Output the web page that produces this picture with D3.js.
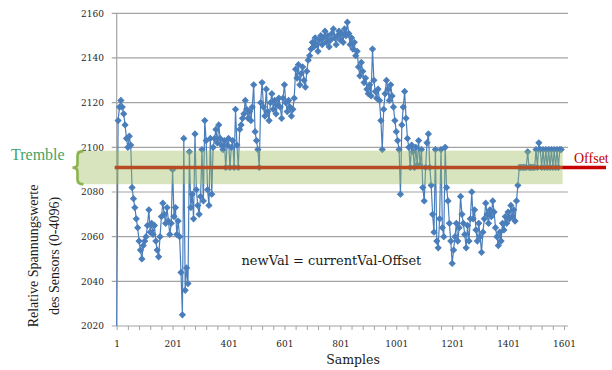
<!DOCTYPE html>
<html>
<head>
<meta charset="utf-8">
<script src="https://cdn.jsdelivr.net/npm/d3@7/dist/d3.min.js"></script>
<style>
  html, body { margin: 0; padding: 0; background: #ffffff; }
  svg { display: block; }
</style>
</head>
<body>
<svg id="chart" width="612" height="370"></svg>
<script>
// Sensor readings, one value every 5 samples starting at sample 1
const sampleStart = 1;
const sampleStep = 5;
const sensorValues = [
  2020,2112,2118,2121,2118,2115,2110,2104,2100,2105,
  2101,2082,2077,2073,2068,2064,2058,2054,2050,2056,
  2058,2060,2065,2072,2062,2066,2061,2065,2058,2054,
  2051,2060,2069,2075,2070,2066,2073,2067,2061,2066,
  2090,2069,2073,2061,2067,2060,2044,2025,2104,2036,
  2046,2039,2098,2073,2079,2068,2106,2081,2074,2070,
  2078,2099,2076,2112,2103,2081,2074,2104,2079,2100,
  2104,2108,2102,2110,2104,2101,2099,2103,2091,2101,
  2104,2091,2100,2103,2091,2117,2101,2091,2108,2110,
  2113,2115,2121,2117,2113,2116,2112,2118,2128,2107,
  2103,2099,2091,2120,2129,2118,2114,2126,2116,2112,
  2120,2124,2117,2121,2115,2119,2122,2118,2113,2122,
  2128,2120,2116,2121,2118,2114,2117,2122,2135,2131,
  2137,2128,2133,2136,2130,2127,2134,2139,2141,2144,
  2147,2145,2149,2146,2143,2148,2150,2146,2149,2152,
  2147,2150,2145,2148,2151,2153,2149,2146,2150,2152,
  2148,2151,2147,2153,2150,2156,2151,2146,2149,2144,
  2147,2141,2143,2136,2132,2138,2134,2129,2131,2126,
  2124,2128,2123,2144,2130,2125,2122,2126,2121,2112,
  2099,2117,2124,2130,2126,2121,2128,2123,2118,2112,
  2107,2103,2099,2079,2110,2118,2125,2113,2104,2100,
  2091,2101,2098,2091,2100,2092,2103,2092,2099,2082,
  2076,2091,2102,2106,2091,2083,2070,2062,2099,2058,
  2055,2068,2099,2064,2060,2100,2082,2076,2066,2058,
  2048,2054,2060,2066,2058,2064,2078,2070,2066,2061,
  2055,2065,2058,2068,2080,2068,2072,2063,2058,2066,
  2060,2053,2062,2068,2075,2070,2066,2072,2069,2076,
  2071,2064,2060,2056,2062,2058,2066,2063,2069,2066,
  2071,2068,2074,2069,2072,2067,2076,2083,2091,2091,
  2091,2091,2091,2091,2098,2091,2091,2091,2091,2091,
  2099,2091,2102,2099,2091,2099,2091,2099,2091,2099,
  2091,2099,2091,2099,2091,2099,2091,2099,2099
];

const yTickValues = [2020, 2040, 2060, 2080, 2100, 2120, 2140, 2160];
const xTickLabels = [1, 201, 401, 601, 801, 1001, 1201, 1401, 1601];
const xMinorStep = 40;
const xAxisEnd = 1615;

const offsetValue = 2091;
const trembleBand = [2083.5, 2098.5];
const trembleEnd = 1596;

const yTitleLines = ["Relative Spannungswerte", "des Sensors (0-4096)"];
const xTitle = "Samples";
const formulaText = "newVal = currentVal-Offset";

const points = sensorValues.map((v, i) => ({ s: sampleStart + i * sampleStep, v }));

const svg = d3.select("#chart");

const x = d3.scaleLinear().domain([1, 1601]).range([116.7, 564]);
const y = d3.scaleLinear().domain([2020, 2160]).range([326, 13.3]);

const gridColor = "#a3a3a3";
const seriesColor = "#4a7ebb";

// horizontal gridlines (with short outside tick marks)
svg.append("g")
  .selectAll("line")
  .data(yTickValues)
  .join("line")
  .attr("x1", x(1) - 5)
  .attr("x2", x(xAxisEnd))
  .attr("y1", d => y(d))
  .attr("y2", d => y(d))
  .attr("stroke", gridColor)
  .attr("stroke-width", 1.2);

// vertical axis line
svg.append("line")
  .attr("x1", x(1)).attr("x2", x(1))
  .attr("y1", y(2160)).attr("y2", y(2020))
  .attr("stroke", gridColor).attr("stroke-width", 1.2);

// x axis minor ticks
const xTickAxis = d3.axisBottom(x)
  .tickValues(d3.range(1, xAxisEnd, xMinorStep))
  .tickSize(4)
  .tickSizeOuter(0)
  .tickFormat("");
const gx = svg.append("g").attr("transform", `translate(0,${y(2020)})`).call(xTickAxis);
gx.select(".domain").remove();
gx.selectAll(".tick line").attr("stroke", gridColor).attr("stroke-width", 1);

// x axis labels
const xLabelAxis = d3.axisBottom(x)
  .tickValues(xTickLabels)
  .tickSize(0)
  .tickPadding(0)
  .tickFormat(d3.format("d"));
const gxl = svg.append("g").attr("transform", `translate(0,347)`).call(xLabelAxis);
gxl.select(".domain").remove();
gxl.selectAll("text")
  .attr("dy", 0)
  .attr("fill", "#262626")
  .style("font-family", "'DejaVu Serif', serif")
  .style("font-size", "9px");

// y axis labels
const yLabelAxis = d3.axisLeft(y)
  .tickValues(yTickValues)
  .tickSize(0)
  .tickPadding(0)
  .tickFormat(d3.format("d"));
const gyl = svg.append("g").attr("transform", `translate(104,0)`).call(yLabelAxis);
gyl.select(".domain").remove();
gyl.selectAll("text")
  .attr("fill", "#262626")
  .style("font-family", "'DejaVu Serif', serif")
  .style("font-size", "9px");

// sensor series: line with diamond markers
const line = d3.line().x(d => x(d.s)).y(d => y(d.v));
svg.append("path")
  .datum(points)
  .attr("d", line)
  .attr("fill", "none")
  .attr("stroke", seriesColor)
  .attr("stroke-width", 1.2);

// square turned 45° gives an even-sided diamond
const marker = d3.symbol(d3.symbolSquare, 17);
svg.append("g")
  .selectAll("path")
  .data(points.slice(1))
  .join("path")
  .attr("transform", d => `translate(${x(d.s)},${y(d.v)}) rotate(45)`)
  .attr("d", marker)
  .attr("fill", seriesColor)
  .attr("stroke", seriesColor)
  .attr("stroke-width", 1);

// offset level
svg.append("line")
  .attr("x1", x(1) - 2)
  .attr("x2", 606)
  .attr("y1", y(offsetValue))
  .attr("y2", y(offsetValue))
  .attr("stroke", "#c80000")
  .attr("stroke-width", 3.5);

// tremble band, translucent over the series
svg.append("rect")
  .attr("x", x(1) - 40)
  .attr("y", y(trembleBand[1]))
  .attr("width", x(trembleEnd) - (x(1) - 40))
  .attr("height", y(trembleBand[0]) - y(trembleBand[1]))
  .attr("fill", "#9bbb59")
  .attr("fill-opacity", 0.4);

// curly brace marking the tremble band
const bTop = y(trembleBand[1]) + 0.5;
const bBot = y(trembleBand[0]);
const bMid = (bTop + bBot) / 2;
const bx = 77.5;
svg.append("path")
  .attr("d", `M${bx + 6},${bTop} Q${bx},${bTop} ${bx},${bTop + 5} L${bx},${bMid - 4} Q${bx},${bMid} ${bx - 5},${bMid}` +
             ` Q${bx},${bMid} ${bx},${bMid + 4} L${bx},${bBot - 5} Q${bx},${bBot} ${bx + 6},${bBot}`)
  .attr("fill", "none")
  .attr("stroke", "#8cb44e")
  .attr("stroke-width", 2.6);

svg.append("text")
  .attr("x", 11)
  .attr("y", 160)
  .attr("fill", "#46a366")
  .style("font-family", "'Liberation Serif', serif")
  .style("font-size", "16px")
  .text("Tremble");

svg.append("text")
  .attr("x", 574)
  .attr("y", 163)
  .attr("fill", "#c00000")
  .style("font-family", "'Liberation Serif', serif")
  .style("font-size", "14px")
  .text("Offset");

// formula
svg.append("text")
  .attr("x", 241.5)
  .attr("y", 265)
  .attr("fill", "#1a1a1a")
  .style("font-family", "'DejaVu Serif', serif")
  .style("font-size", "13px")
  .text(formulaText);

// axis titles
svg.append("text")
  .attr("x", 353)
  .attr("y", 364)
  .attr("text-anchor", "middle")
  .attr("fill", "#1a1a1a")
  .style("font-family", "'DejaVu Serif', serif")
  .style("font-size", "12.5px")
  .text(xTitle);

const yTitle = svg.append("text")
  .attr("transform", "translate(0,256) rotate(-90)")
  .attr("text-anchor", "middle")
  .attr("fill", "#1a1a1a")
  .style("font-family", "'Liberation Serif', serif")
  .style("font-size", "14px");
yTitle.selectAll("tspan")
  .data(yTitleLines)
  .join("tspan")
  .attr("x", 0)
  .attr("y", (d, i) => 38 + i * 21)
  .text(d => d);
</script>
</body>
</html>
